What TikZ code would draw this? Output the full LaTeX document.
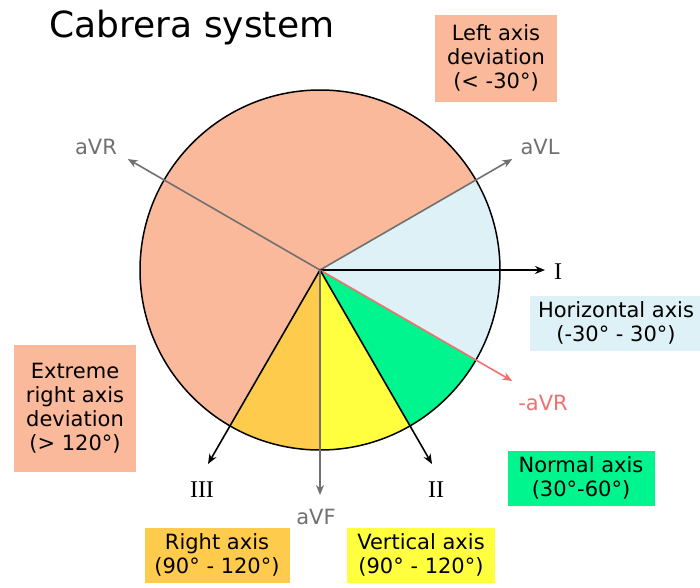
\documentclass[tikz,border=0pt]{standalone}
\usepackage{fontspec}
\setmainfont{DejaVu Sans}
\newfontfamily\serifz{Liberation Serif}
\usetikzlibrary{calc,arrows.meta}
\definecolor{salm}{HTML}{FBB99C}
\definecolor{lblue}{HTML}{DDF1F6}
\definecolor{grn}{HTML}{00F58E}
\definecolor{yel}{HTML}{FFFF40}
\definecolor{org}{HTML}{FFCB4C}
\definecolor{gry}{HTML}{707070}
\definecolor{pinkred}{HTML}{F07070}
\begin{document}
\begin{tikzpicture}[x=1pt,y=-1pt,
  lab/.style={font=\fontsize{21}{24}\selectfont,align=center,inner sep=3pt},
  ax/.style={-{Stealth[length=10pt,width=8pt]},line width=1.6pt},
  txt/.style={font=\fontsize{21}{24}\selectfont}]
\useasboundingbox (0,0) rectangle (700,587);
\coordinate (c) at (320,270);
\begin{scope}[y=1pt]
\fill[salm] (320,-270) -- ++(30:180) arc[start angle=30,end angle=240,radius=180] -- cycle;
\fill[lblue] (320,-270) -- ++(30:180) arc[start angle=30,end angle=-30,radius=180] -- cycle;
\fill[grn] (320,-270) -- ++(-30:180) arc[start angle=-30,end angle=-60,radius=180] -- cycle;
\fill[yel] (320,-270) -- ++(-60:180) arc[start angle=-60,end angle=-90,radius=180] -- cycle;
\fill[org] (320,-270) -- ++(-90:180) arc[start angle=-90,end angle=-120,radius=180] -- cycle;
\draw[line width=1.5pt] (320,-270) circle[radius=180];
\coordinate (aVR) at ($(320,-270)+(150:222)$);
\coordinate (aVL) at ($(320,-270)+(30:222)$);
\coordinate (I) at ($(320,-270)+(0:225)$);
\coordinate (maVR) at ($(320,-270)+(-30:222)$);
\coordinate (II) at ($(320,-270)+(-60:224)$);
\coordinate (III) at ($(320,-270)+(-120:224)$);
\coordinate (aVF) at ($(320,-270)+(-90:225)$);
\end{scope}
\draw[ax,gry] (c) -- (aVR);
\draw[ax,gry] (c) -- (aVL);
\draw[ax,black] (c) -- (I);
\draw[ax,pinkred] (c) -- (maVR);
\draw[ax,black] (c) -- (II);
\draw[ax,black] (c) -- (III);
\draw[ax,gry] (c) -- (aVF);
\node[txt,gry] (taVR) at (96,147) {aVR};
\node[txt,gry] (taVL) at (540,147) {aVL};
\node[font=\serifz\fontsize{24}{26}\selectfont] (tI) at (558,272) {I};
\node[txt,pinkred] (tmaVR) at (543,403) {-aVR};
\node[font=\serifz\fontsize{24}{26}\selectfont] (tII) at (436,490) {II};
\node[font=\serifz\fontsize{24}{26}\selectfont] (tIII) at (202,490) {III};
\node[txt,gry] (taVF) at (316,517) {aVF};
\node[font=\fontsize{36}{40}\selectfont] (title) at (192,28) {Cabrera system};
\node[lab,fill=salm,minimum width=122pt,minimum height=87pt] (b1) at (496,58) {Left axis\\ deviation\\(< -30°)};
\node[lab,fill=lblue,minimum width=172pt,minimum height=55pt] (b2) at (616,323) {Horizontal axis\\(-30° - 30°)};
\node[lab,fill=salm,minimum width=122pt,minimum height=127pt] (b3) at (75,408) {Extreme\\right axis\\deviation\\(> 120°)};
\node[lab,fill=grn,minimum width=147pt,minimum height=55pt] (b4) at (581,478) {Normal axis\\(30°-60°)};
\node[lab,fill=org,minimum width=145pt,minimum height=55pt] (b5) at (217,555) {Right axis\\(90° - 120°)};
\node[lab,fill=yel,minimum width=148pt,minimum height=55pt] (b6) at (421,555) {Vertical axis\\(90° - 120°)};
\end{tikzpicture}
\end{document}
